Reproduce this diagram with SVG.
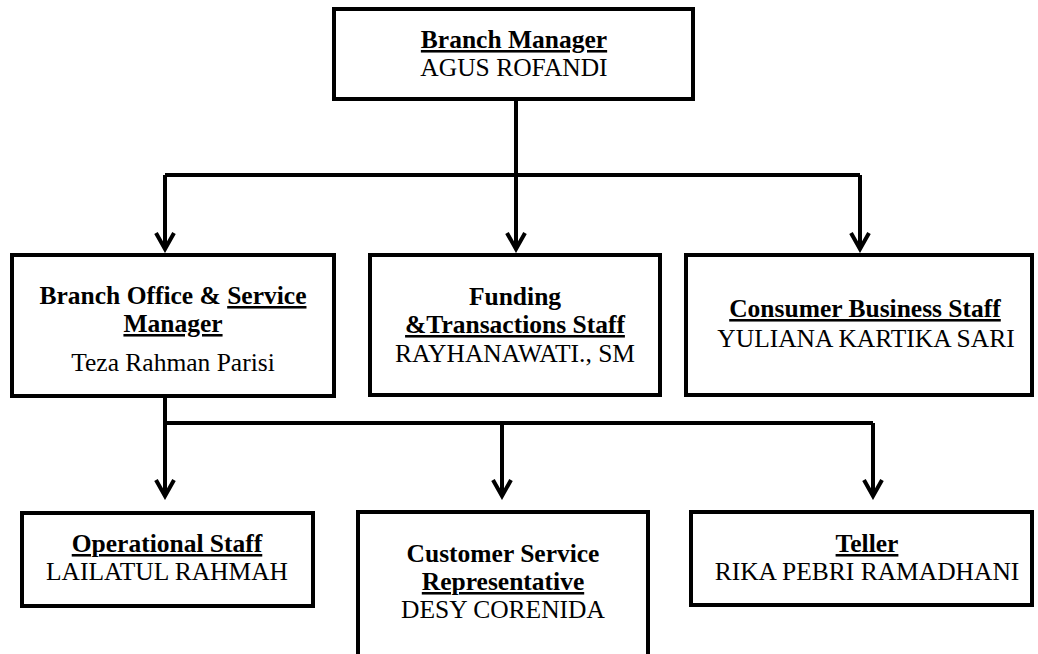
<svg xmlns="http://www.w3.org/2000/svg" width="1038" height="654" viewBox="0 0 1038 654">
<style>
.box{fill:#fff;stroke:#000;stroke-width:4}
.t{font-family:'Liberation Serif','Times New Roman',serif;font-size:25.5px;fill:#000;text-anchor:middle}
.b{font-weight:bold}
.u{text-decoration:underline}
.c{fill:none;stroke:#000;stroke-width:4}
</style>
<defs>
<marker id="arr" markerUnits="userSpaceOnUse" viewBox="-20 -12 24 24" refX="0" refY="0" markerWidth="24" markerHeight="24" orient="auto">
<path d="M-16,-9 L0,0 L-16,9" fill="none" stroke="#000" stroke-width="4"/>
</marker>
</defs>
<rect width="1038" height="654" fill="#fff"/>
<g id="connectors">
<path class="c" d="M516,99 V249" marker-end="url(#arr)"/>
<path class="c" d="M165,175 H860"/>
<path class="c" d="M165,175 V249" marker-end="url(#arr)"/>
<path class="c" d="M860,175 V249" marker-end="url(#arr)"/>
<path class="c" d="M165,396 V496" marker-end="url(#arr)"/>
<path class="c" d="M165,423 H873"/>
<path class="c" d="M502,423 V496" marker-end="url(#arr)"/>
<path class="c" d="M873,423 V496" marker-end="url(#arr)"/>
</g>
<g id="branch-manager">
<rect class="box" x="334" y="9" width="359" height="90"/>
<text class="t b u" x="514" y="48">Branch Manager</text>
<text class="t" x="514" y="76">AGUS ROFANDI</text>
</g>
<g id="branch-office">
<rect class="box" x="12" y="255" width="322" height="141"/>
<text class="t b" x="173" y="304">Branch Office &amp; <tspan class="u">Service </tspan></text>
<text class="t b u" x="173" y="332">Manager</text>
<text class="t" x="173" y="371">Teza Rahman Parisi</text>
</g>
<g id="funding">
<rect class="box" x="370" y="255" width="290" height="140"/>
<text class="t b" x="515" y="305">Funding</text>
<text class="t b u" x="515" y="333">&amp;Transactions Staff</text>
<text class="t" x="515" y="362">RAYHANAWATI., SM</text>
</g>
<g id="consumer-business">
<rect class="box" x="686" y="255" width="346" height="140"/>
<text class="t b u" x="865" y="317">Consumer Business Staff</text>
<text class="t" x="866" y="347">YULIANA KARTIKA SARI</text>
</g>
<g id="operational">
<rect class="box" x="22" y="513" width="291" height="93"/>
<text class="t b u" x="167" y="552">Operational Staff</text>
<text class="t" x="167" y="580">LAILATUL RAHMAH</text>
</g>
<g id="customer-service">
<rect class="box" x="358" y="512" width="290" height="152"/>
<text class="t b" x="503" y="562">Customer Service</text>
<text class="t b u" x="503" y="590">Representative</text>
<text class="t" x="503" y="618">DESY CORENIDA</text>
</g>
<g id="teller">
<rect class="box" x="691" y="512" width="341" height="93"/>
<text class="t b u" x="867" y="552">Teller</text>
<text class="t" x="867" y="580">RIKA PEBRI RAMADHANI</text>
</g>
</svg>
